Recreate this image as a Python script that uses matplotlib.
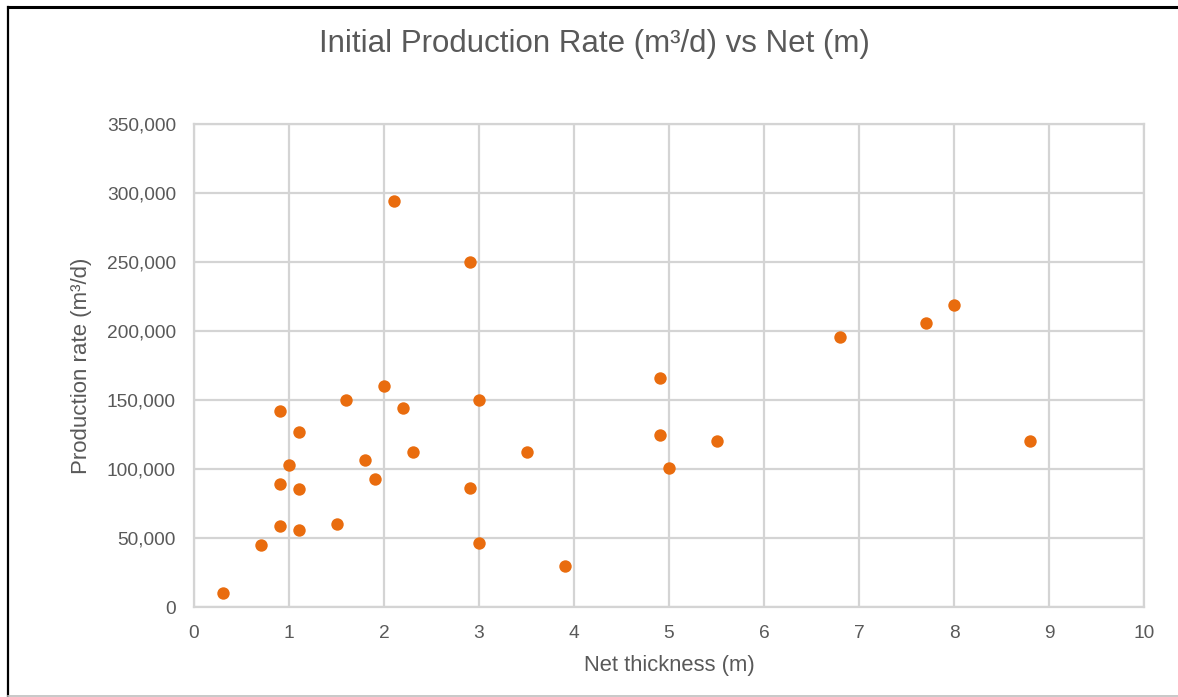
import matplotlib
matplotlib.use("Agg")
import matplotlib.pyplot as plt
from matplotlib.lines import Line2D
from matplotlib.ticker import FuncFormatter, MultipleLocator

net_thickness = [0.3, 0.7, 0.9, 0.9, 0.9, 1.0, 1.1, 1.1, 1.1, 1.5, 1.6, 1.8, 1.9,
                 2.0, 2.1, 2.2, 2.3, 2.9, 2.9, 3.0, 3.0, 3.5, 3.9, 4.9, 4.9, 5.0,
                 5.5, 6.8, 7.7, 8.0, 8.8]
production_rate = [10000, 45000, 142000, 89000, 59000, 103000, 127000, 85500, 56000,
                   60000, 150000, 106500, 93000, 160000, 294000, 144500, 112000,
                   250000, 86000, 150000, 46500, 112000, 29500, 166000, 125000,
                   101000, 120000, 196000, 206000, 219000, 120000]

title = "Initial Production Rate (m³/d) vs Net (m)"
xlabel = "Net thickness (m)"
ylabel = "Production rate (m³/d)"

plt.rcParams['font.family'] = ['Liberation Sans', 'DejaVu Sans']
text_color = '#595959'
grid_color = '#D4D4D4'

W, H = 1178, 697
fig = plt.figure(figsize=(W / 100, H / 100), dpi=100)
ax = fig.add_axes([194 / W, 1 - 607 / H, (1144 - 194) / W, (607 - 124) / H])

ax.scatter(net_thickness, production_rate, s=80, color='#E96C0E', zorder=3,
           linewidths=0)

ax.set_xlim(0, 10)
ax.set_ylim(0, 350000)
ax.xaxis.set_major_locator(MultipleLocator(1))
ax.yaxis.set_major_locator(MultipleLocator(50000))
ax.yaxis.set_major_formatter(FuncFormatter(lambda v, p: f"{int(v):,}"))

ax.grid(True, color=grid_color, linewidth=1.6, zorder=0)
ax.set_axisbelow(True)
for sp in ax.spines.values():
    sp.set_color(grid_color)
    sp.set_linewidth(1.6)

ax.tick_params(axis='both', length=0, colors=text_color, labelsize=13.8)
ax.tick_params(axis='x', pad=13)
ax.tick_params(axis='y', pad=13)

ax.set_xlabel(xlabel, color=text_color, fontsize=15.8, labelpad=9)
ax.set_ylabel(ylabel, color=text_color, fontsize=16.0, labelpad=11)

fig.text(594 / W, 1 - 44 / H, title, ha='center', va='center',
         color=text_color, fontsize=22.5)

# outer frame
fig.add_artist(Line2D([8 / W, 1.0], [1 - 7 / H, 1 - 7 / H], color='black',
                      linewidth=2.2, transform=fig.transFigure))
fig.add_artist(Line2D([8 / W, 8 / W], [1 - 7 / H, 1 - 696 / H], color='black',
                      linewidth=1.6, transform=fig.transFigure))
fig.add_artist(Line2D([8 / W, 1.0], [1 - 696 / H, 1 - 696 / H], color='#BFBFBF',
                      linewidth=1.2, transform=fig.transFigure))

fig.savefig("out.png", dpi=100)
